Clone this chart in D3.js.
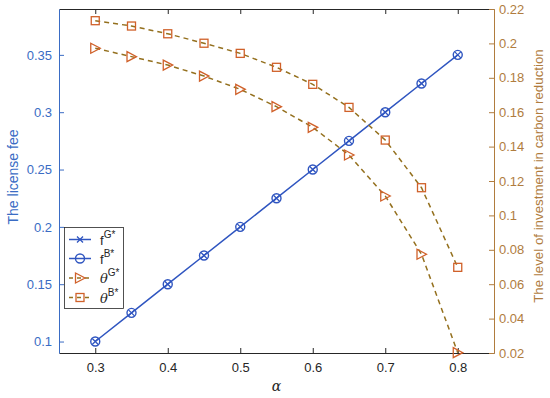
<!DOCTYPE html>
<html><head><meta charset="utf-8">
<script src="https://cdn.jsdelivr.net/npm/d3@7/dist/d3.min.js"></script>
<style>body{margin:0;background:#fff}svg{display:block}</style>
</head><body>
<svg id="c" width="550" height="398"></svg>
<script>
const alpha = [0.3,0.35,0.4,0.45,0.5,0.55,0.6,0.65,0.7,0.75,0.8];
const fG = [0.1,0.125,0.15,0.175,0.2,0.225,0.25,0.275,0.3,0.325,0.35];
const fB = [0.1,0.125,0.15,0.175,0.2,0.225,0.25,0.275,0.3,0.325,0.35];
const thetaG = [0.1972,0.1923,0.1874,0.1810,0.1733,0.1632,0.1512,0.1351,0.1113,0.0774,0.0202];
const thetaB = [0.2132,0.2101,0.2056,0.2001,0.1942,0.1861,0.1762,0.1628,0.1438,0.1161,0.0698];
const xTicks = [0.3,0.4,0.5,0.6,0.7,0.8];
const yLTicks = [0.1,0.15,0.2,0.25,0.3,0.35];
const yRTicks = [0.02,0.04,0.06,0.08,0.1,0.12,0.14,0.16,0.18,0.2,0.22];

const L=59,R=494,T=9,B=353;
const blue="#2f55c0", blueAx="#3a6cc4", brownAx="#b07c3e", olive="#94701e", orange="#d0612a";
const font="'Liberation Sans', Arial, sans-serif";
const svg=d3.select("#c");
const x=d3.scaleLinear().domain([0.25,0.85]).range([L,R]);
const yL=d3.scaleLinear().domain([0.09,0.39]).range([B,T]);
const yR=d3.scaleLinear().domain([0.02,0.22]).range([B,T]);
const fmt=d=>String(+d.toFixed(2));

function styleAxis(g,color){
  g.select(".domain").attr("stroke",color).attr("stroke-width",1);
  g.selectAll(".tick line").attr("stroke",color);
  g.selectAll(".tick text").attr("fill",color).style("font-family",font).style("font-size","13px");
}
// bottom
svg.append("g").attr("transform",`translate(0,${B})`)
  .call(d3.axisBottom(x).tickValues(xTicks).tickFormat(fmt).tickSizeInner(-5).tickSizeOuter(0).tickPadding(10))
  .call(g=>styleAxis(g,"#262626"));
// top
svg.append("g").attr("transform",`translate(0,${T})`)
  .call(d3.axisTop(x).tickValues(xTicks).tickFormat("").tickSizeInner(-5).tickSizeOuter(0))
  .call(g=>styleAxis(g,"#262626"));
// left
svg.append("g").attr("transform",`translate(${L},0)`)
  .call(d3.axisLeft(yL).tickValues(yLTicks).tickFormat(fmt).tickSizeInner(-5).tickSizeOuter(0).tickPadding(7))
  .call(g=>styleAxis(g,blueAx));
// right
svg.append("g").attr("transform",`translate(${R},0)`)
  .call(d3.axisRight(yR).tickValues(yRTicks).tickFormat(fmt).tickSizeInner(-5).tickSizeOuter(0).tickPadding(5))
  .call(g=>styleAxis(g,brownAx));

// lines
const lineL=d3.line().x((d,i)=>x(alpha[i])).y(d=>yL(d));
const lineR=d3.line().x((d,i)=>x(alpha[i])).y(d=>yR(d));
svg.append("path").attr("d",lineL(fB)).attr("fill","none").attr("stroke",blue).attr("stroke-width",1.5);
svg.append("path").attr("d",lineR(thetaB)).attr("fill","none").attr("stroke",olive).attr("stroke-width",1.5).attr("stroke-dasharray","5,4");
svg.append("path").attr("d",lineR(thetaG)).attr("fill","none").attr("stroke",olive).attr("stroke-width",1.5).attr("stroke-dasharray","5,4");

function cross(g,cx,cy,s){
  g.append("path").attr("d",`M${cx-s},${cy-s}L${cx+s},${cy+s}M${cx-s},${cy+s}L${cx+s},${cy-s}`)
   .attr("stroke",blue).attr("stroke-width",1.3);
}
function circ(g,cx,cy,r){
  g.append("circle").attr("cx",cx).attr("cy",cy).attr("r",r).attr("fill","none").attr("stroke",blue).attr("stroke-width",1.4);
}
function tri(g,cx,cy){
  g.append("path").attr("d",`M${cx-4.5},${cy-5}L${cx+5},${cy}L${cx-4.5},${cy+5}Z`)
   .attr("fill","none").attr("stroke",orange).attr("stroke-width",1.3);
}
function sq(g,cx,cy){
  g.append("rect").attr("x",cx-4).attr("y",cy-4).attr("width",8).attr("height",8)
   .attr("fill","none").attr("stroke",orange).attr("stroke-width",1.3);
}
const mk=svg.append("g");
fG.forEach((d,i)=>cross(mk,x(alpha[i]),yL(d),3));
fB.forEach((d,i)=>circ(mk,x(alpha[i]),yL(d),4.5));
thetaG.forEach((d,i)=>tri(mk,x(alpha[i]),yR(d)));
thetaB.forEach((d,i)=>sq(mk,x(alpha[i]),yR(d)));

// axis labels
svg.append("text").attr("transform",`translate(18,177) rotate(-90)`).attr("text-anchor","middle")
  .attr("fill",blueAx).style("font-family",font).style("font-size","14px").text("The license fee");
svg.append("text").attr("transform",`translate(543,176) rotate(-90)`).attr("text-anchor","middle")
  .attr("fill",brownAx).style("font-family",font).style("font-size","13.3px").text("The level of investment in carbon reduction");
svg.append("text").attr("x",x(0.55)).attr("y",391).attr("text-anchor","middle")
  .attr("fill","#262626").style("font-family","'DejaVu Serif', serif").style("font-style","italic").style("font-size","14px").text("α");

// legend
const lg=svg.append("g");
lg.append("rect").attr("x",64.5).attr("y",227.5).attr("width",59).attr("height",81).attr("fill","#fff").attr("stroke","#262626").attr("stroke-width",0.8);
const rows=[239.5,258.5,278,297.5];
const names=[["f","G*"],["f","B*"],["θ","G*"],["θ","B*"]];
rows.forEach((ry,i)=>{
  const dashed=i>=2;
  lg.append("line").attr("x1",69).attr("x2",91).attr("y1",ry).attr("y2",ry)
    .attr("stroke",dashed?olive:blue).attr("stroke-width",1.5).attr("stroke-dasharray",dashed?"4,4":null);
  if(i===0) cross(lg,80,ry,3);
  if(i===1) circ(lg,80,ry,4.5);
  if(i===2) tri(lg,80,ry);
  if(i===3) sq(lg,80,ry);
  const t=lg.append("text").attr("x",100).attr("y",ry+5).attr("fill","#262626").style("font-size","13px");
  t.append("tspan").text(names[i][0]).style("font-family",dashed?"'DejaVu Serif', serif":font).style("font-style",dashed?"italic":"normal");
  t.append("tspan").text(names[i][1]).attr("dy",-7).style("font-size","10px").style("font-family",font);
});
</script>
</body></html>
